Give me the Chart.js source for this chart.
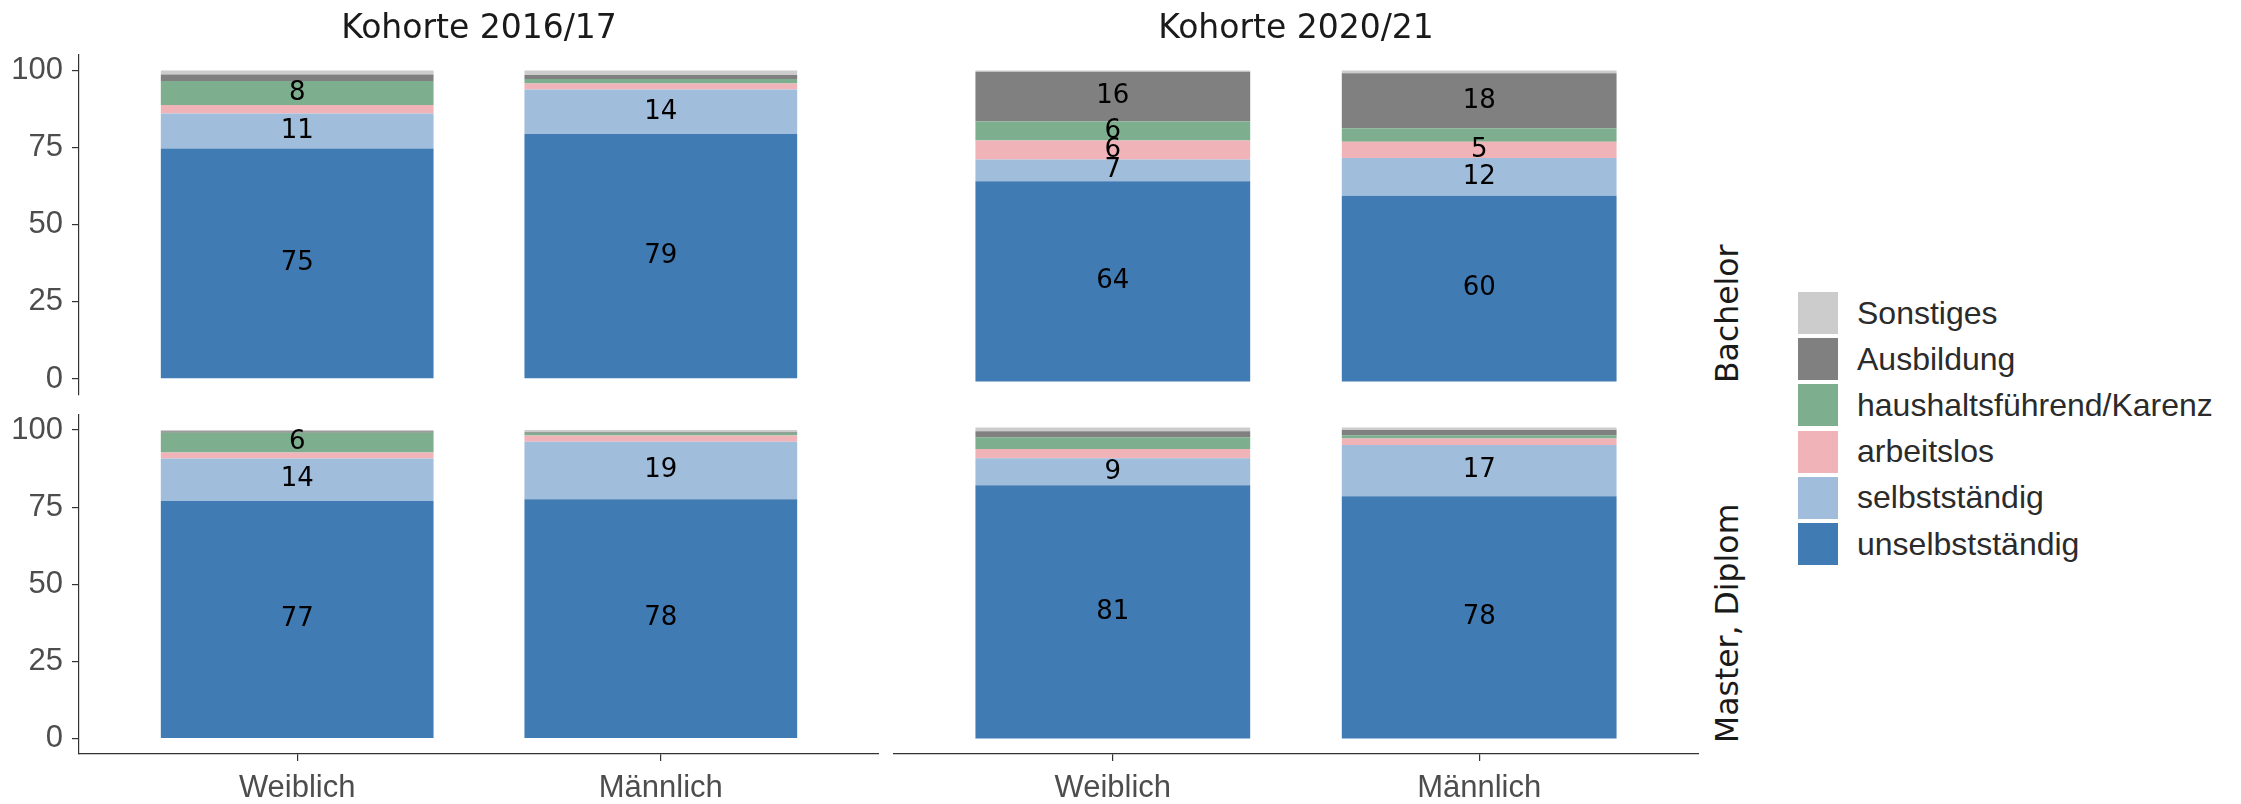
<!DOCTYPE html>
<html>
<head>
<meta charset="utf-8">
<script src="https://cdn.jsdelivr.net/npm/chart.js@4"></script>
<style>
html,body{margin:0;padding:0;background:#fff;}
body{width:2241px;height:804px;position:relative;overflow:hidden;}
canvas{position:absolute;}
.strip{position:absolute;font-family:"DejaVu Sans";font-size:31.5px;line-height:36px;color:#1a1a1a;white-space:nowrap;transform:rotate(-90deg);transform-origin:0 0;}
#legend{position:absolute;left:1798px;top:290px;font-family:"Liberation Sans";font-size:32px;color:#2b2b2b;}
.item{display:flex;align-items:center;height:46.2px;}
.key{width:40px;height:42px;margin-right:19px;flex:none;}
</style>
</head>
<body>
<canvas id="p11" width="879" height="422" style="left:0;top:0"></canvas>
<canvas id="p12" width="806" height="422" style="left:893px;top:0"></canvas>
<canvas id="p21" width="879" height="417" style="left:0;top:387px"></canvas>
<canvas id="p22" width="806" height="417" style="left:893px;top:387px"></canvas>
<div class="strip" id="s1" style="left:1709px;top:383px"></div>
<div class="strip" id="s2" style="left:1709px;top:743px"></div>
<div id="legend"></div>
<script>
const categories = ['Weiblich', 'Männlich'];
const statusLabels = ['unselbstständig', 'selbstständig', 'arbeitslos', 'haushaltsführend/Karenz', 'Ausbildung', 'Sonstiges'];
const statusColors = ['#417BB4', '#A1BDDC', '#F0B4B8', '#7DAE8D', '#808080', '#CCCCCC'];
const cohorts = ['Kohorte 2016/17', 'Kohorte 2020/21'];
const degrees = ['Bachelor', 'Master, Diplom'];
const yTicks = [0, 25, 50, 75, 100];

// shares in %, same order as statusLabels
const bachelor1617Weiblich  = [74.7, 11.3, 2.8, 7.8, 2.1, 1.3];
const bachelor1617Maennlich = [79.4, 14.4, 2.0, 1.4, 1.3, 1.5];
const bachelor2021Weiblich  = [64.4, 7.0, 6.1, 6.1, 16.0, 0.4];
const bachelor2021Maennlich = [59.7, 12.2, 5.2, 4.3, 17.7, 0.9];
const master1617Weiblich    = [77.0, 13.8, 1.9, 6.4, 0.5, 0.4];
const master1617Maennlich   = [77.6, 18.6, 2.0, 0.8, 0.3, 0.7];
const master2021Weiblich    = [81.4, 8.7, 3.0, 3.8, 1.9, 1.2];
const master2021Maennlich   = [77.9, 16.5, 2.1, 1.0, 1.7, 0.8];

const segmentLabels = {
  id: 'segmentLabels',
  afterDatasetsDraw(chart) {
    const ctx = chart.ctx;
    ctx.save();
    ctx.font = '26px "DejaVu Sans"';
    ctx.fillStyle = '#000';
    ctx.textAlign = 'center';
    ctx.textBaseline = 'middle';
    chart.data.datasets.forEach((ds, i) => {
      const meta = chart.getDatasetMeta(i);
      meta.data.forEach((el, j) => {
        const v = ds.data[j].y;
        if (v < 5) return;
        ctx.fillText(String(Math.round(v)), el.x, (el.y + el.base) / 2);
      });
    });
    ctx.restore();
  }
};

const axisFont = {family: 'Liberation Sans', size: 31};
const axisColor = '#333333';

function makePanel(id, weiblich, maennlich, showY, showX, title) {
  const datasets = statusLabels.map((lab, s) => ({
    label: lab,
    data: [weiblich[s], maennlich[s]].map((v, i) => ({x: i + 1, y: v})),
    backgroundColor: statusColors[s],
    borderWidth: 0,
    barPercentage: 0.75,
    categoryPercentage: 1
  }));
  return new Chart(document.getElementById(id), {
    type: 'bar',
    data: {datasets},
    options: {
      responsive: false,
      animation: false,
      events: [],
      layout: {padding: {top: title ? 0 : 25, bottom: showX ? 0 : 25, left: 0, right: 0}},
      plugins: {
        legend: {display: false},
        tooltip: {enabled: false},
        title: title ? {
          display: true, text: title, fullSize: false, align: 'center',
          font: {family: 'DejaVu Sans', size: 33, weight: 'normal', lineHeight: 1.2},
          color: '#1a1a1a', padding: {top: 10, bottom: 5.4}
        } : {display: false}
      },
      scales: {
        x: {
          type: 'linear', min: 0.4, max: 2.6, stacked: true, display: showX, offset: false,
          afterBuildTicks: s => { s.ticks = categories.map((c, i) => ({value: i + 1})); },
          afterFit: s => { if (showX) s.height = 50; },
          ticks: {callback: v => categories[v - 1], font: axisFont, color: '#4d4d4d', padding: 9, maxRotation: 0, autoSkip: false},
          grid: {display: true, offset: false, drawOnChartArea: false, drawTicks: true, tickLength: 7, color: axisColor, lineWidth: 1.2},
          border: {display: true, color: axisColor, width: 1.2}
        },
        y: {
          type: 'linear', min: -5, max: 105, stacked: true, display: showY, position: 'left',
          afterBuildTicks: s => { s.ticks = yTicks.map(v => ({value: v})); },
          afterFit: s => { if (showY) s.width = 79; },
          ticks: {font: axisFont, color: '#4d4d4d', padding: 9},
          grid: {display: true, offset: false, drawOnChartArea: false, drawTicks: true, tickLength: 7, color: axisColor, lineWidth: 1.2},
          border: {display: true, color: axisColor, width: 1.2}
        }
      }
    },
    plugins: [segmentLabels]
  });
}

makePanel('p11', bachelor1617Weiblich, bachelor1617Maennlich, true, false, cohorts[0]);
makePanel('p12', bachelor2021Weiblich, bachelor2021Maennlich, false, false, cohorts[1]);
makePanel('p21', master1617Weiblich, master1617Maennlich, true, true, null);
makePanel('p22', master2021Weiblich, master2021Maennlich, false, true, null);

document.getElementById('s1').textContent = degrees[0];
document.getElementById('s2').textContent = degrees[1];

const legend = document.getElementById('legend');
for (let s = statusLabels.length - 1; s >= 0; s--) {
  const item = document.createElement('div');
  item.className = 'item';
  const key = document.createElement('div');
  key.className = 'key';
  key.style.background = statusColors[s];
  const txt = document.createElement('span');
  txt.textContent = statusLabels[s];
  item.appendChild(key);
  item.appendChild(txt);
  legend.appendChild(item);
}
</script>
</body>
</html>
